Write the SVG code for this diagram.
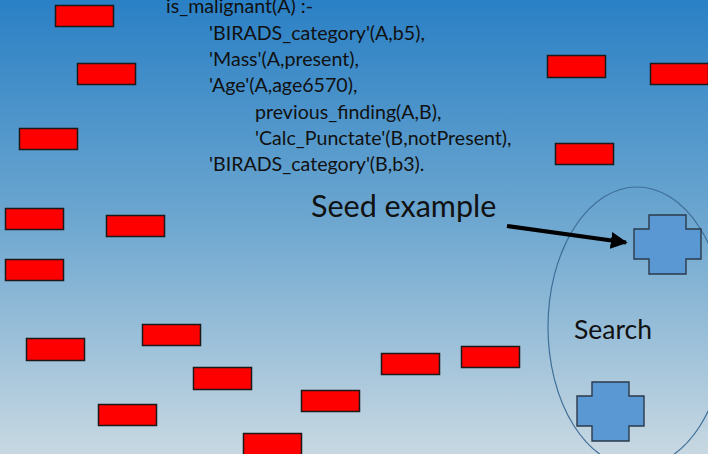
<svg xmlns="http://www.w3.org/2000/svg" width="708" height="454" viewBox="0 0 708 454">
  <defs>
    <linearGradient id="bg" x1="0" y1="0" x2="0" y2="1">
      <stop offset="0" stop-color="#2a80c5"/>
      <stop offset="0.5" stop-color="#6fa8d0"/>
      <stop offset="1" stop-color="#c8d8e2"/>
    </linearGradient>
    <marker id="arrowhead" viewBox="0 0 10 10" refX="9" refY="5" markerWidth="4.2" markerHeight="4.2" orient="auto" markerUnits="strokeWidth">
      <path d="M0,0 L10,5 L0,10 z" fill="#000"/>
    </marker>
    <path id="cross" d="M15,0 H52 V14 H67 V44 H52 V59 H15 V44 H0 V14 H15 Z"/>
  </defs>
  <style>
    .ex { fill: #ff0000; stroke: #1a1a1a; stroke-width: 1.5; }
    .seed { fill: #5a98d4; stroke: #2b3a4a; stroke-width: 1.4; }
    .code { font-family: Lato, "Open Sans", sans-serif; font-size: 19.6px; fill: #111; }
    .label { font-family: Lato, "Open Sans", sans-serif; fill: #111; }
  </style>

  <rect x="0" y="0" width="708" height="454" fill="url(#bg)"/>

  <!-- examples -->
  <g id="examples">
    <rect class="ex" x="55.5" y="5.5" width="58" height="21"/>
    <rect class="ex" x="77.5" y="63.5" width="58" height="21"/>
    <rect class="ex" x="19.5" y="128.5" width="58" height="21"/>
    <rect class="ex" x="5.5" y="208.5" width="58" height="21"/>
    <rect class="ex" x="106.5" y="215.5" width="58" height="21"/>
    <rect class="ex" x="5.5" y="259.5" width="58" height="21"/>
    <rect class="ex" x="26.5" y="338.5" width="58" height="22"/>
    <rect class="ex" x="142.5" y="324.5" width="58" height="21"/>
    <rect class="ex" x="193.5" y="367.5" width="58" height="22"/>
    <rect class="ex" x="98.5" y="404.5" width="58" height="21"/>
    <rect class="ex" x="243.5" y="433.5" width="58" height="22"/>
    <rect class="ex" x="301.5" y="390.5" width="58" height="21"/>
    <rect class="ex" x="381.5" y="353.5" width="58" height="21"/>
    <rect class="ex" x="461.5" y="346.5" width="58" height="21"/>
    <rect class="ex" x="547.5" y="55.5" width="58" height="22"/>
    <rect class="ex" x="650.5" y="63.5" width="58" height="21"/>
    <rect class="ex" x="555.5" y="143.5" width="58" height="21"/>
  </g>

  <!-- learned clause -->
  <g id="clause" class="code">
    <text x="166" y="13">is_malignant(A) :-</text>
    <text x="209" y="40">'BIRADS_category'(A,b5),</text>
    <text x="209" y="66">'Mass'(A,present),</text>
    <text x="209" y="92">'Age'(A,age6570),</text>
    <text x="255" y="119">previous_finding(A,B),</text>
    <text x="255" y="145">'Calc_Punctate'(B,notPresent),</text>
    <text x="209" y="171">'BIRADS_category'(B,b3).</text>
  </g>

  <!-- search region -->
  <g id="search">
    <ellipse cx="637" cy="327" rx="89" ry="140" fill="none" stroke="#3f6f98" stroke-width="1.2"/>
    <text class="label" x="574" y="339" font-size="26.5">Search</text>
  </g>

  <g id="seed">
    <use href="#cross" class="seed" x="634" y="215"/>
  </g>
  <g id="neighbour">
    <use href="#cross" class="seed" x="577" y="382"/>
  </g>

  <g id="seed-label">
    <text class="label" x="311" y="217" font-size="30.5">Seed example</text>
  </g>

  <!-- connectors -->
  <g id="connectors">
    <line x1="507" y1="226" x2="626" y2="242.5" stroke="#000" stroke-width="4" marker-end="url(#arrowhead)"/>
  </g>
</svg>
